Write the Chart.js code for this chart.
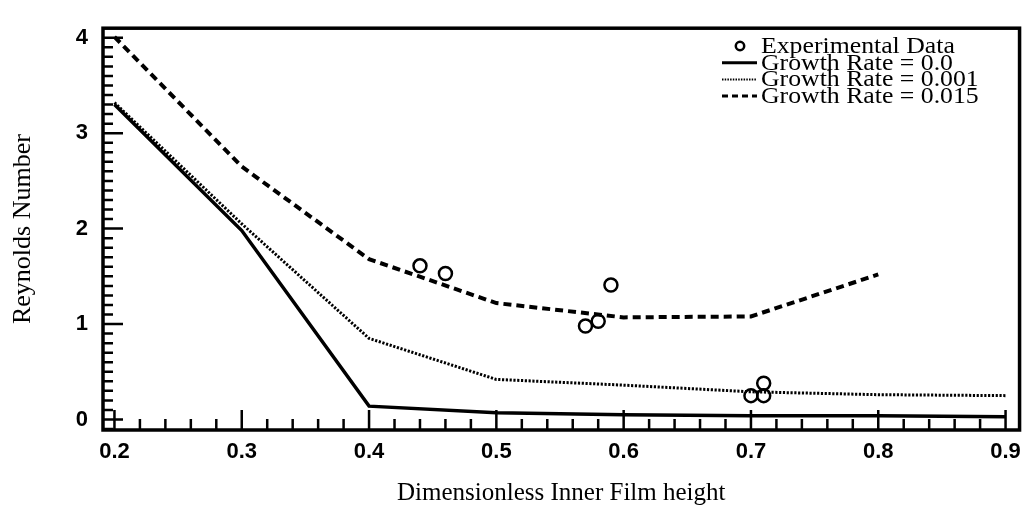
<!DOCTYPE html>
<html>
<head>
<meta charset="utf-8">
<script src="https://cdn.jsdelivr.net/npm/chart.js@4.4.0/dist/chart.umd.min.js"></script>
<style>
  html, body { margin: 0; padding: 0; background: #fff; }
  #wrap { width: 1030px; height: 518px; }
</style>
</head>
<body>
<div id="wrap"><canvas id="reChart" width="1030" height="518"></canvas></div>
<script>
// ═══════════════════════════════════════════════════════════
// DATA
// ═══════════════════════════════════════════════════════════

const filmHeights = [0.2, 0.3, 0.4, 0.5, 0.6, 0.7, 0.8, 0.9];
const reGrowth0   = [3.30, 1.98, 0.14, 0.07, 0.05, 0.04, 0.04, 0.03];
const reGrowth001 = [3.32, 2.05, 0.85, 0.42, 0.36, 0.29, 0.26, 0.25];
const reGrowth015 = [4.01, 2.65, 1.68, 1.22, 1.07, 1.08, 1.52]; // curve stops at 0.8

const expHeights = [0.44, 0.46, 0.57, 0.58, 0.59, 0.70, 0.71, 0.71];
const expRe      = [1.61, 1.53, 0.98, 1.03, 1.41, 0.25, 0.25, 0.38];

const xTickValues = [0.2, 0.3, 0.4, 0.5, 0.6, 0.7, 0.8, 0.9];
const yTickValues = [0, 1, 2, 3, 4];

const legendLabels = ['Experimental Data', 'Growth Rate = 0.0', 'Growth Rate = 0.001', 'Growth Rate = 0.015'];

// pair x/y arrays into points
function toPoints(xs, ys) {
  return ys.map((y, i) => ({ x: xs[i], y: y }));
}

// Frame + inward tick marks, positioned through the chart's scales
const frameTicks = {
  id: 'frameTicks',
  afterDraw(chart) {
    const { ctx, chartArea: a, scales: { x, y } } = chart;
    ctx.save();
    ctx.strokeStyle = '#000';
    ctx.lineWidth = 2.5;
    ctx.beginPath();
    // x ticks every 0.02, major every 0.1
    for (let i = 0; i <= 35; i++) {
      const px = x.getPixelForValue(0.2 + i * 0.02);
      const len = (i % 5 === 0) ? 20 : 11;
      ctx.moveTo(px, a.bottom);
      ctx.lineTo(px, a.bottom - len);
    }
    // y ticks every 0.1, major every 1
    for (let i = -1; i <= 40; i++) {
      const py = y.getPixelForValue(i / 10);
      const len = (i % 10 === 0) ? 20 : 10;
      ctx.moveTo(a.left, py);
      ctx.lineTo(a.left + len, py);
    }
    ctx.stroke();
    ctx.lineWidth = 3.5;
    ctx.strokeRect(a.left, a.top, a.right - a.left, a.bottom - a.top);
    ctx.restore();
  }
};

// Legend block in the upper right corner (samples use the dataset styles)
const cornerLegend = {
  id: 'cornerLegend',
  afterDraw(chart) {
    const ctx = chart.ctx;
    ctx.save();
    ctx.font = '23px "Liberation Serif"';
    ctx.textBaseline = 'middle';
    ctx.fillStyle = '#000';
    ctx.strokeStyle = '#000';
    chart.data.datasets.forEach((ds, i) => {
      const yy = 46 + i * 16.7;
      if (ds.showLine) {
        ctx.lineWidth = ds.legendWidth;
        ctx.setLineDash(ds.legendDash || []);
        ctx.beginPath();
        ctx.moveTo(722, yy);
        ctx.lineTo(757, yy);
        ctx.stroke();
        ctx.setLineDash([]);
      } else {
        ctx.lineWidth = 2.5;
        ctx.beginPath();
        ctx.arc(740, yy, 4.2, 0, Math.PI * 2);
        ctx.stroke();
      }
      ctx.save();
      ctx.translate(761, yy + 1);
      ctx.scale(1.12, 1);
      ctx.fillText(ds.label, 0, 0);
      ctx.restore();
    });
    ctx.restore();
  }
};

const ctx = document.getElementById('reChart').getContext('2d');

new Chart(ctx, {
  type: 'scatter',
  data: {
    datasets: [
      {
        label: legendLabels[0],
        data: toPoints(expHeights, expRe),
        showLine: false,
        pointRadius: 6.5,
        pointBorderWidth: 2.5,
        pointBorderColor: '#000',
        pointBackgroundColor: 'rgba(0,0,0,0)'
      },
      {
        label: legendLabels[1],
        data: toPoints(filmHeights, reGrowth0),
        showLine: true,
        borderColor: '#000',
        borderWidth: 3.5,
        legendWidth: 3,
        pointRadius: 0,
        tension: 0
      },
      {
        label: legendLabels[2],
        data: toPoints(filmHeights, reGrowth001),
        showLine: true,
        borderColor: '#000',
        borderWidth: 3,
        borderDash: [2.2, 1.6],
        legendWidth: 2,
        legendDash: [1.5, 1.2],
        pointRadius: 0,
        tension: 0
      },
      {
        label: legendLabels[3],
        data: toPoints(filmHeights, reGrowth015),
        showLine: true,
        borderColor: '#000',
        borderWidth: 4,
        borderDash: [8, 5],
        legendWidth: 3,
        legendDash: [6, 4],
        pointRadius: 0,
        tension: 0
      }
    ]
  },
  options: {
    responsive: false,
    animation: false,
    devicePixelRatio: 1,
    layout: { padding: { top: 13, right: 10, left: 0, bottom: 0 } },
    plugins: {
      legend: { display: false },
      tooltip: { enabled: false }
    },
    scales: {
      x: {
        type: 'linear',
        min: 0.191,
        max: 0.911,
        afterBuildTicks: (s) => { s.ticks = xTickValues.map(v => ({ value: v })); },
        afterFit: (s) => { s.height = 88; },
        grid: { display: false, drawTicks: false },
        border: { display: false },
        ticks: {
          color: '#000',
          padding: 9,
          font: { family: '"Liberation Sans"', size: 22, weight: 'bold' },
          callback: (v) => v.toFixed(1)
        },
        title: {
          display: true,
          text: 'Dimensionless Inner Film height',
          color: '#000',
          font: { family: '"Liberation Serif"', size: 25 },
          padding: { top: 0, bottom: 10 }
        }
      },
      y: {
        type: 'linear',
        min: -0.11,
        max: 4.1,
        afterBuildTicks: (s) => { s.ticks = yTickValues.map(v => ({ value: v })); },
        afterFit: (s) => { s.width = 103; },
        grid: { display: false, drawTicks: false },
        border: { display: false },
        ticks: {
          color: '#000',
          padding: 15,
          font: { family: '"Liberation Sans"', size: 22, weight: 'bold' },
          callback: (v) => String(v)
        },
        title: {
          display: true,
          text: 'Reynolds Number',
          color: '#000',
          font: { family: '"Liberation Serif"', size: 26 },
          padding: { top: 8, bottom: 0 }
        }
      }
    }
  },
  plugins: [frameTicks, cornerLegend]
});
</script>
</body>
</html>
